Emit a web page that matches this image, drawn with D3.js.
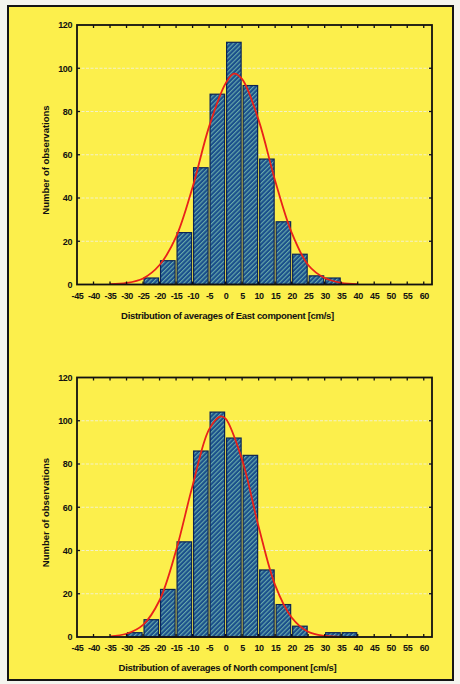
<!DOCTYPE html>
<html>
<head>
<meta charset="utf-8">
<script src="https://cdn.jsdelivr.net/npm/d3@7/dist/d3.min.js"></script>
<style>
  html, body { margin: 0; padding: 0; background: #f4f4ee; }
  svg { display: block; }
  text { font-family: "Liberation Sans", Arial, sans-serif; font-weight: bold; fill: #111; }
</style>
</head>
<body>
<svg id="chart" width="460" height="684"></svg>
<script>
// Histogram bins: lower edge of each 5 cm/s class
const eastBinStarts = [-40, -35, -30, -25, -20, -15, -10, -5, 0, 5, 10, 15, 20, 25, 30, 35, 40, 45, 50, 55];
const eastCounts    = [0, 0, 0, 3, 11, 24, 54, 88, 112, 92, 58, 29, 14, 4, 3, 0, 0, 0, 0, 0];

const northBinStarts = [-40, -35, -30, -25, -20, -15, -10, -5, 0, 5, 10, 15, 20, 25, 30, 35];
const northCounts    = [0, 0, 2, 8, 22, 44, 86, 104, 92, 84, 31, 15, 5, 0, 2, 2];

// Fitted normal curve, sampled points (x in cm/s, expected count)
const eastCurveX = [-35, -30, -25, -20, -15, -10, -5, 0, 2.5, 5, 10, 15, 20, 25, 30, 35, 40];
const eastCurveY = [0.2, 0.7, 2.8, 9, 22, 45, 73, 93, 97.5, 95, 76, 48, 24, 9, 3, 0.8, 0.2];

const northCurveX = [-35, -30, -25, -20, -15, -10, -5, -1.5, 0, 5, 10, 15, 20, 25, 30, 35];
const northCurveY = [0.3, 1.5, 5.6, 17, 40, 70, 96, 102, 101, 82, 51, 24, 9, 2.4, 0.5, 0.1];

// Axis ticks
const xTicks = [-45, -40, -35, -30, -25, -20, -15, -10, -5, 0, 5, 10, 15, 20, 25, 30, 35, 40, 45, 50, 55, 60];
const yTicks = [0, 20, 40, 60, 80, 100, 120];
const binWidth = 5;

const yTitle = "Number of observations";
const eastTitle = "Distribution of averages of East component [cm/s]";
const northTitle = "Distribution of averages of North component [cm/s]";

const svg = d3.select("#chart");

// Page panel
svg.append("rect")
  .attr("x", 8).attr("y", 6).attr("width", 445).attr("height", 674)
  .attr("fill", "#fcef4c").attr("stroke", "#151515").attr("stroke-width", 2);

// Hatched bar fill
const defs = svg.append("defs");
const pat = defs.append("pattern")
  .attr("id", "hatch").attr("patternUnits", "userSpaceOnUse")
  .attr("width", 3.2).attr("height", 3.2)
  .attr("patternTransform", "rotate(45)");
pat.append("rect").attr("width", 3.2).attr("height", 3.2).attr("fill", "#1a4f8c");
pat.append("rect").attr("x", 0).attr("width", 1.1).attr("height", 3.2).attr("fill", "#68aaa9");

function drawPanel(top, starts, counts, curveX, curveY, title) {
  const x = d3.scaleLinear().domain([-45, 62.5]).range([77, 432]);
  const y = d3.scaleLinear().domain([0, 120]).range([top + 259.5, top]);
  const g = svg.append("g");

  // light horizontal grid
  g.append("g").selectAll("line")
    .data(yTicks.filter(d => d > 0 && d < 120))
    .join("line")
    .attr("x1", x(-45)).attr("x2", x(62.5))
    .attr("y1", d => y(d)).attr("y2", d => y(d))
    .attr("stroke", "#f3f1c8").attr("stroke-width", 1)
    .attr("stroke-dasharray", "3,1.5");

  // bars
  g.append("g").selectAll("rect")
    .data(starts.map((s, i) => ({ s, c: counts[i] })))
    .join("rect")
    .attr("x", d => x(d.s) + 1)
    .attr("width", d => x(d.s + binWidth) - x(d.s) - 2)
    .attr("y", d => y(d.c))
    .attr("height", d => y(0) - y(d.c))
    .attr("fill", "url(#hatch)")
    .attr("stroke", "#0b2455").attr("stroke-width", 1.2);

  // normal curve
  const line = d3.line()
    .x(d => x(d[0])).y(d => y(d[1]))
    .curve(d3.curveCatmullRom.alpha(0.5));
  g.append("path")
    .datum(curveX.map((v, i) => [v, curveY[i]]))
    .attr("d", line)
    .attr("fill", "none").attr("stroke", "#e8221a").attr("stroke-width", 1.8);

  // tick labels (plain hyphen for negatives)
  const tickLen = 3;
  const bottom = g.append("g").attr("transform", `translate(0,${y(0)})`)
    .call(d3.axisBottom(x).tickValues(xTicks).tickSize(0).tickPadding(8).tickFormat(d => String(d)));
  bottom.select(".domain").remove();
  bottom.selectAll("text").attr("font-size", 9).attr("font-family", null).attr("letter-spacing", -0.4);

  const left = g.append("g").attr("transform", `translate(${x(-45)},0)`)
    .call(d3.axisLeft(y).tickValues(yTicks).tickSize(0).tickPadding(5).tickFormat(d => String(d)));
  left.select(".domain").remove();
  left.selectAll("text").attr("font-size", 9).attr("font-family", null).attr("letter-spacing", -0.4);

  // inward tick marks on all four sides
  const tk = g.append("g").attr("stroke", "#111").attr("stroke-width", 1.3);
  tk.selectAll(".tt").data(xTicks.slice(1)).join("line")
    .attr("x1", d => x(d)).attr("x2", d => x(d))
    .attr("y1", y(120)).attr("y2", y(120) + tickLen);
  tk.selectAll(".tb").data(xTicks.slice(1)).join("line")
    .attr("x1", d => x(d)).attr("x2", d => x(d))
    .attr("y1", y(0)).attr("y2", y(0) - tickLen);
  tk.selectAll(".tl").data(yTicks.slice(1, -1)).join("line")
    .attr("x1", x(-45)).attr("x2", x(-45) + tickLen)
    .attr("y1", d => y(d)).attr("y2", d => y(d));
  tk.selectAll(".tr").data(yTicks.slice(1, -1)).join("line")
    .attr("x1", x(62.5)).attr("x2", x(62.5) - tickLen)
    .attr("y1", d => y(d)).attr("y2", d => y(d));

  g.append("rect")
    .attr("x", x(-45)).attr("y", y(120))
    .attr("width", x(62.5) - x(-45)).attr("height", y(0) - y(120))
    .attr("fill", "none").attr("stroke", "#111").attr("stroke-width", 1.8);

  // titles
  g.append("text")
    .attr("x", 227.5).attr("y", y(0) + 34)
    .attr("text-anchor", "middle").attr("font-size", 9.5)
    .attr("letter-spacing", -0.3)
    .text(title);
  g.append("text")
    .attr("transform", `translate(49,${top + 135}) rotate(-90)`)
    .attr("text-anchor", "middle").attr("font-size", 9.5)
    .text(yTitle);
}

drawPanel(25, eastBinStarts, eastCounts, eastCurveX, eastCurveY, eastTitle);
drawPanel(377.5, northBinStarts, northCounts, northCurveX, northCurveY, northTitle);
</script>
</body>
</html>
